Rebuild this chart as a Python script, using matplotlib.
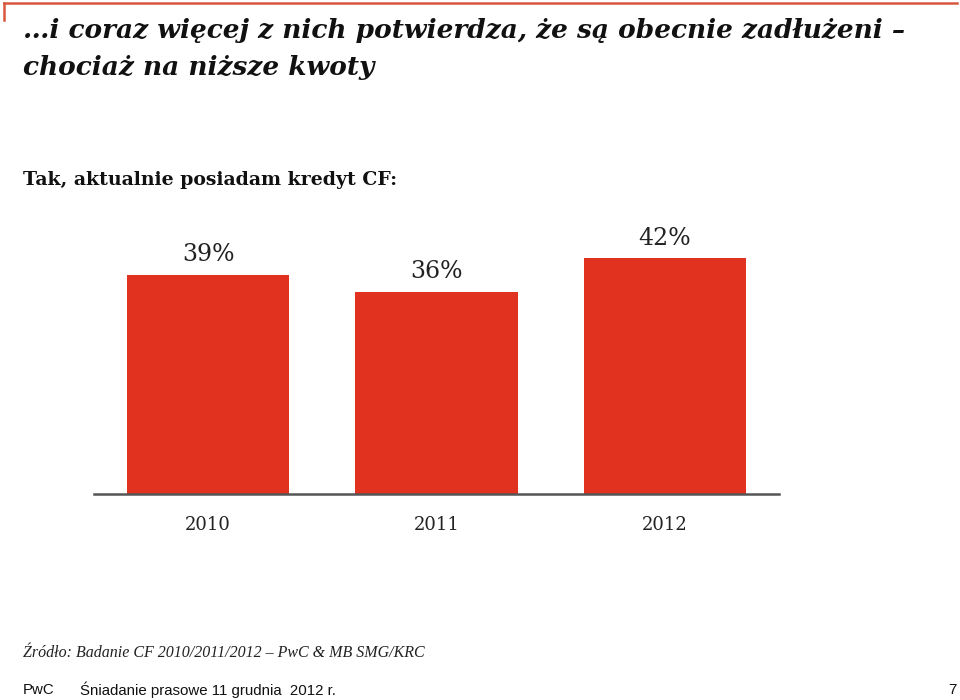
import matplotlib

matplotlib.use("Agg")
import matplotlib.pyplot as plt
from matplotlib.lines import Line2D

years = ["2010", "2011", "2012"]
shares = [39, 36, 42]
value_labels = ["39%", "36%", "42%"]

title = "…i coraz więcej z nich potwierdza, że są obecnie zadłużeni –\nchociaż na niższe kwoty"
subtitle = "Tak, aktualnie posiadam kredyt CF:"
source = "Źródło: Badanie CF 2010/2011/2012 – PwC & MB SMG/KRC"
footer_left = "PwC"
footer_mid = "Śniadanie prasowe 11 grudnia  2012 r."
page_no = "7"

BAR_COLOR = "#e0321f"
ACCENT = "#d9573f"

fig = plt.figure(figsize=(9.6, 7.0), dpi=100)

# thin red frame line at the top of the slide
fig.add_artist(Line2D([4 / 960, 957 / 960], [1 - 3 / 700, 1 - 3 / 700],
                      color=ACCENT, lw=1.8, transform=fig.transFigure))
fig.add_artist(Line2D([4 / 960, 4 / 960], [1 - 3 / 700, 1 - 20 / 700],
                      color=ACCENT, lw=1.8, transform=fig.transFigure))

fig.text(23 / 960, 1 - 18 / 700, title, ha="left", va="top",
         family="DejaVu Serif", style="italic", weight="bold",
         fontsize=19, linespacing=1.62, color="#111111")
fig.text(23 / 960, 1 - 180 / 700, subtitle, ha="left", va="center",
         family="DejaVu Serif", weight="bold", fontsize=13.6, color="#111111")

ax = fig.add_axes([94 / 960, (700 - 494) / 700, 685 / 960, 281 / 700])
bars = ax.bar(range(len(years)), shares, width=0.71, color=BAR_COLOR)
for rect, lab in zip(bars, value_labels):
    ax.annotate(lab, (rect.get_x() + rect.get_width() / 2, rect.get_height()),
                xytext=(0, 6), textcoords="offset points", ha="center",
                va="bottom", family="DejaVu Serif", fontsize=17,
                color="#222222")

ax.set_xlim(-0.5, 2.5)
ax.set_ylim(0, 50)
ax.set_xticks(range(len(years)))
ax.set_xticklabels(years, family="DejaVu Serif", fontsize=13, color="#222222")
ax.tick_params(axis="x", length=0, pad=16)
ax.set_yticks([])
for side in ["top", "right", "left"]:
    ax.spines[side].set_visible(False)
ax.spines["bottom"].set_color("#555555")
ax.spines["bottom"].set_linewidth(1.8)

fig.text(23 / 960, 1 - 653 / 700, source, ha="left", va="center",
         family="Liberation Serif", style="italic", fontsize=11.5, color="#222222")
fig.text(23 / 960, 1 - 690 / 700, footer_left, ha="left", va="center",
         family="Liberation Sans", fontsize=10.8, color="#111111")
fig.text(80 / 960, 1 - 690 / 700, footer_mid, ha="left", va="center",
         family="Liberation Sans", fontsize=10.8, color="#111111")
fig.text(957 / 960, 1 - 690 / 700, page_no, ha="right", va="center",
         family="Liberation Sans", fontsize=10.8, color="#111111")

fig.savefig("out.png")
